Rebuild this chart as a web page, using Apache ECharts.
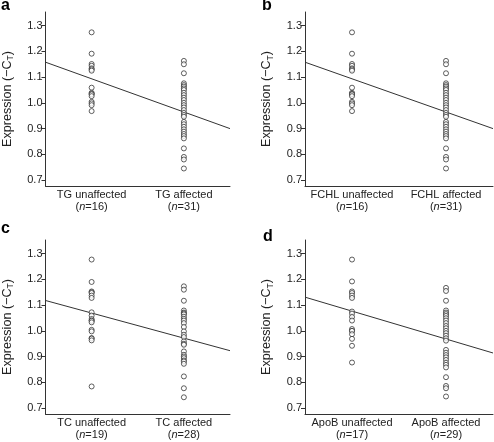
<!DOCTYPE html>
<html>
<head>
<meta charset="utf-8">
<script src="https://cdn.jsdelivr.net/npm/echarts@6/dist/echarts.min.js"></script>
<style>
html,body{margin:0;padding:0;background:#fff;}
#chart{width:494px;height:442px;}
</style>
</head>
<body>
<div id="chart"></div>
<script>
// ---- data ----
const yTicks = [0.7, 0.8, 0.9, 1.0, 1.1, 1.2, 1.3];
const panelLetters = ['a', 'b', 'c', 'd'];

const catsA = ['TG unaffected', 'TG affected'];
const nA = [16, 31];
const unaffA = [1.274, 1.191, 1.151, 1.144, 1.134, 1.13, 1.125, 1.059, 1.039, 1.035, 1.033, 1.026, 1.004, 0.998, 0.991, 0.968];
const affA = [1.163, 1.150, 1.115, 1.076, 1.069, 1.063, 1.056, 1.050, 1.039, 1.030, 1.020, 1.011, 1.0, 0.991, 0.982, 0.972, 0.961, 0.953, 0.946, 0.926, 0.917, 0.907, 0.897, 0.888, 0.879, 0.871, 0.862, 0.823, 0.790, 0.780, 0.745];
const lineA = [1.158, 0.900];

const catsB = ['FCHL unaffected', 'FCHL affected'];
const nB = [16, 31];
const unaffB = [1.274, 1.191, 1.151, 1.144, 1.134, 1.13, 1.125, 1.059, 1.039, 1.035, 1.033, 1.026, 1.004, 0.998, 0.991, 0.968];
const affB = [1.163, 1.150, 1.115, 1.076, 1.069, 1.063, 1.056, 1.050, 1.039, 1.030, 1.020, 1.011, 1.0, 0.991, 0.982, 0.972, 0.961, 0.953, 0.946, 0.926, 0.917, 0.907, 0.897, 0.888, 0.879, 0.871, 0.862, 0.823, 0.790, 0.780, 0.745];
const lineB = [1.158, 0.900];

const catsC = ['TC unaffected', 'TC affected'];
const nC = [19, 28];
const unaffC = [1.277, 1.19, 1.153, 1.15, 1.147, 1.137, 1.128, 1.072, 1.059, 1.046, 1.04, 1.039, 1.033, 1.004, 0.998, 0.972, 0.97, 0.963, 0.784];
const affC = [1.173, 1.16, 1.117, 1.079, 1.071, 1.068, 1.064, 1.055, 1.047, 1.04, 1.030, 1.015, 0.998, 0.985, 0.976, 0.959, 0.95, 0.946, 0.920, 0.907, 0.90, 0.894, 0.885, 0.881, 0.872, 0.823, 0.777, 0.742];
const lineC = [1.118, 0.923];

const catsD = ['ApoB unaffected', 'ApoB affected'];
const nD = [17, 29];
const unaffD = [1.277, 1.192, 1.153, 1.147, 1.137, 1.128, 1.075, 1.067, 1.054, 1.040, 1.007, 1.0, 1.0, 0.987, 0.969, 0.942, 0.877];
const affD = [1.167, 1.155, 1.117, 1.079, 1.071, 1.065, 1.058, 1.049, 1.040, 1.030, 1.019, 1.010, 1.0, 0.991, 0.981, 0.971, 0.962, 0.926, 0.915, 0.906, 0.897, 0.887, 0.876, 0.868, 0.858, 0.820, 0.786, 0.777, 0.745];
const lineD = [1.131, 0.914];

// ---- layout ----
const FONT = 'Liberation Sans, Arial, Helvetica, sans-serif';
const INK = '#222';
const grids = [
  {left: 42, top: 12, width: 188, height: 174},
  {left: 305, top: 12, width: 188, height: 174},
  {left: 42, top: 240, width: 188, height: 174},
  {left: 305, top: 240, width: 188, height: 174}
];
const titlePos = [
  {left: 1, top: -2},
  {left: 262, top: -2},
  {left: 1, top: 221},
  {left: 263, top: 229}
];
const panels = [
  {cats: catsA, n: nA, u: unaffA, a: affA, line: lineA},
  {cats: catsB, n: nB, u: unaffB, a: affB, line: lineB},
  {cats: catsC, n: nC, u: unaffC, a: affC, line: lineC},
  {cats: catsD, n: nD, u: unaffD, a: affD, line: lineD}
];
const X_MIN = 0.5, X_MAX = 2.5;

const option = {
  animation: false,
  backgroundColor: '#fff',
  textStyle: {fontFamily: FONT},
  title: panelLetters.map((t, i) => ({
    text: t, left: titlePos[i].left, top: titlePos[i].top, padding: 0,
    textStyle: {fontFamily: FONT, fontSize: 16, fontWeight: 'bold', color: '#000'}
  })),
  grid: grids,
  xAxis: panels.map((p, i) => ({
    type: 'value', gridIndex: i, min: X_MIN, max: X_MAX,
    splitLine: {show: false},
    axisLine: {show: true, lineStyle: {color: '#333', width: 1}},
    axisTick: {show: false},
    axisLabel: {
      customValues: [1, 2], margin: 3, color: INK, fontSize: 11, lineHeight: 12,
      formatter: v => {
        const k = Math.round(v) - 1;
        return '{t|' + p.cats[k] + '}\n{t|(}{i|n}{t|=' + p.n[k] + ')}';
      },
      rich: {
        t: {fontFamily: FONT, fontSize: 11, color: INK, lineHeight: 12},
        i: {fontFamily: FONT, fontSize: 11, color: INK, fontStyle: 'italic', lineHeight: 12}
      }
    }
  })),
  yAxis: panels.map((p, i) => ({
    type: 'value', gridIndex: i, min: 0.677, max: 1.353,
    splitLine: {show: false},
    axisLine: {show: true, lineStyle: {color: '#333', width: 1}},
    axisTick: {show: true, customValues: yTicks, length: 4, lineStyle: {color: '#333'}},
    axisLabel: {customValues: yTicks, margin: 3, color: INK, fontSize: 11,
      formatter: v => Number(v).toFixed(1)},
    name: '{m|Expression (−C}{s|T}{m|)}',
    nameLocation: 'middle', nameGap: 30, nameRotate: 90,
    nameTextStyle: {
      rich: {
        m: {fontFamily: FONT, fontSize: 12.6, color: INK, lineHeight: 16},
        s: {fontFamily: FONT, fontSize: 8.5, color: INK, lineHeight: 8, verticalAlign: 'bottom'}
      }
    }
  })),
  series: []
};

panels.forEach((p, i) => {
  const pts = p.u.map(v => [1, v]).concat(p.a.map(v => [2, v]));
  option.series.push({
    type: 'scatter', xAxisIndex: i, yAxisIndex: i, data: pts,
    symbol: 'circle', symbolSize: 5,
    itemStyle: {color: '#fff', borderColor: '#222', borderWidth: 0.9},
    z: 3
  });
  option.series.push({
    type: 'line', xAxisIndex: i, yAxisIndex: i,
    data: [[X_MIN, p.line[0]], [X_MAX, p.line[1]]],
    symbol: 'none', lineStyle: {color: '#333', width: 1}, z: 2
  });
});

const chart = echarts.init(document.getElementById('chart'), null, {renderer: 'canvas'});
chart.setOption(option);
</script>
</body>
</html>
